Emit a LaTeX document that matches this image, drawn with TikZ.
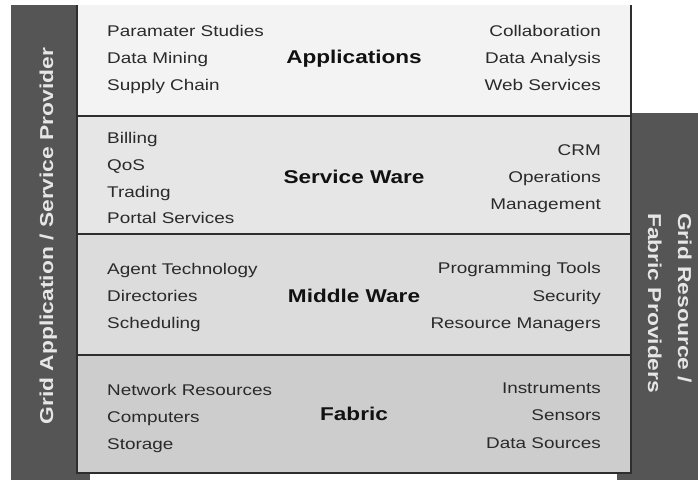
\documentclass[tikz,border=0pt]{standalone}
\usepackage{fontspec}
\setmainfont{Liberation Sans}[FakeStretch=1.22]
\definecolor{barc}{HTML}{555555}
\definecolor{edgec}{HTML}{2E2E2E}
\definecolor{lone}{HTML}{F3F3F3}
\definecolor{ltwo}{HTML}{E6E6E6}
\definecolor{lthree}{HTML}{DCDCDC}
\definecolor{lfour}{HTML}{CDCDCD}
\definecolor{itemc}{HTML}{2A2A2A}
\definecolor{titlec}{HTML}{111111}
\definecolor{sidetext}{HTML}{E6E6E6}
\begin{document}
\begin{tikzpicture}[x=1pt,y=-1pt,
  item/.style={font=\fontsize{15.5}{18}\selectfont, text=itemc, inner sep=0pt},
  li/.style={item, anchor=base west},
  ri/.style={item, anchor=base east},
  ttl/.style={font=\bfseries\fontsize{18.5}{22}\selectfont, text=titlec, inner sep=0pt, anchor=base},
  side/.style={font=\bfseries\fontsize{18.7}{22}\selectfont, text=sidetext, inner sep=0pt},
  edge/.style={draw=edgec, line width=2pt},
  ]
\useasboundingbox (0,0) rectangle (698,480);
\fill[white] (0,0) rectangle (698,480);
% side bars
\fill[barc] (11,5) rectangle (90,480);
\fill[barc] (617,113) rectangle (698,480);
% layers
\fill[lone] (77,5) rectangle (631,116);
\fill[ltwo] (77,116) rectangle (631,234);
\fill[lthree] (77,234) rectangle (631,355);
\fill[lfour] (77,355) rectangle (631,473);
\draw[edge] (77,5) -- (77,473) -- (631,473) -- (631,5);
\draw[edge] (77,116) -- (631,116);
\draw[edge] (77,234) -- (631,234);
\draw[edge] (77,355) -- (631,355);
% side labels
\node[side, rotate=90, anchor=base] (lside) at (53,236) {Grid Application / Service Provider};
\node[side, rotate=-90, anchor=base west] (rside1) at (678,213) {Grid Resource /};
\node[side, rotate=-90, anchor=base west] (rside2) at (648,213) {Fabric Providers};
% Applications
\node[ttl] (tapp) at (354,63) {Applications};
\node[li] (a1) at (107,36) {Paramater Studies};
\node[li] (a2) at (107,63) {Data Mining};
\node[li] (a3) at (107,90) {Supply Chain};
\node[ri] (a4) at (601,36) {Collaboration};
\node[ri] (a5) at (601,63) {Data Analysis};
\node[ri] (a6) at (601,90) {Web Services};
% Service Ware
\node[ttl] (tsw) at (354,183) {Service Ware};
\node[li] (s1) at (107,143) {Billing};
\node[li] (s2) at (107,170) {QoS};
\node[li] (s3) at (107,197) {Trading};
\node[li] (s4) at (107,223) {Portal Services};
\node[ri] (s5) at (601,155) {CRM};
\node[ri] (s6) at (601,182) {Operations};
\node[ri] (s7) at (601,209) {Management};
% Middle Ware
\node[ttl] (tmw) at (354,302) {Middle Ware};
\node[li] (m1) at (107,274) {Agent Technology};
\node[li] (m2) at (107,301) {Directories};
\node[li] (m3) at (107,328) {Scheduling};
\node[ri] (m4) at (601,273) {Programming Tools};
\node[ri] (m5) at (601,301) {Security};
\node[ri] (m6) at (601,328) {Resource Managers};
% Fabric
\node[ttl] (tfa) at (354,420) {Fabric};
\node[li] (f1) at (107,395) {Network Resources};
\node[li] (f2) at (107,422) {Computers};
\node[li] (f3) at (107,449) {Storage};
\node[ri] (f4) at (601,393) {Instruments};
\node[ri] (f5) at (601,420) {Sensors};
\node[ri] (f6) at (601,448) {Data Sources};
\end{tikzpicture}
\end{document}
